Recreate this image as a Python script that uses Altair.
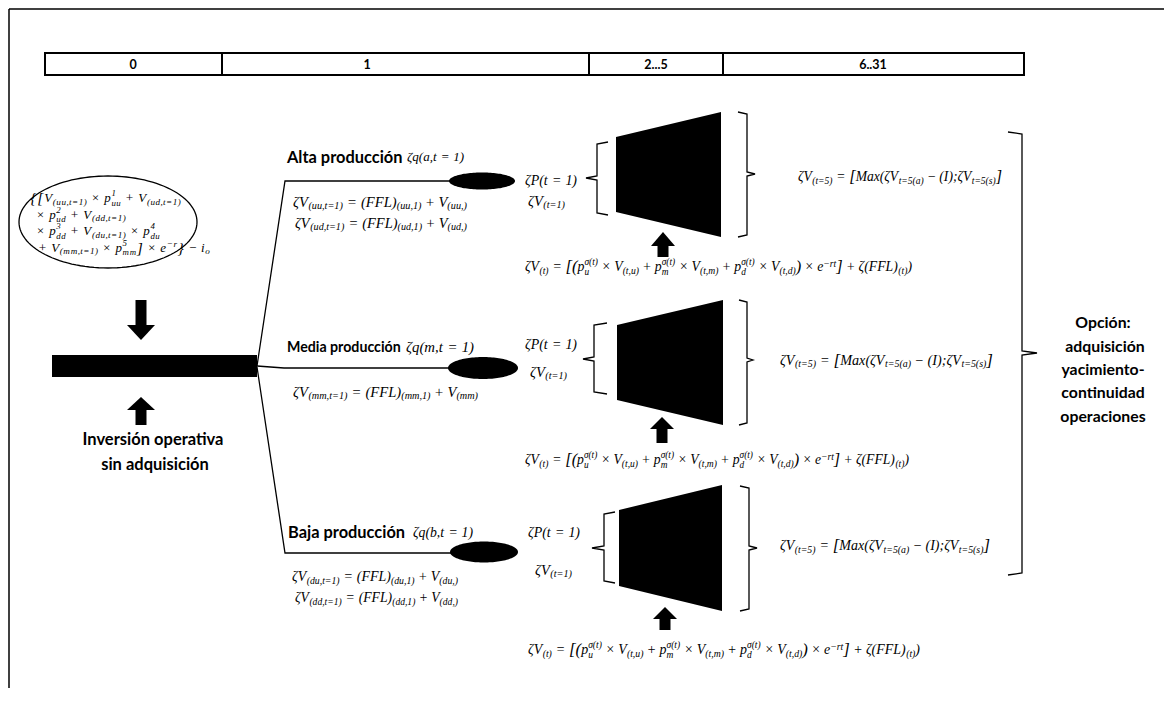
import math
import altair as alt
import pandas as pd

# ---------------- data (diagram content) ----------------
TIMELINE_EDGES = [45, 222, 589, 723, 1024]
TIMELINE_TOP, TIMELINE_BOTTOM = 53, 75
TIMELINE_LABELS = ["0", "1", "2...5", "6..31"]
TIMELINE_LABEL_X = [133, 367, 656, 873]

ROOT_BAR = (52, 257, 355, 377)                 # x1, x2, y1, y2
ROOT_ELLIPSE = (108, 222, 89, 46)              # cx, cy, rx, ry
DOWN_ARROW = (141, 300, 325, 340)              # cx, shaft top, head base, tip
UP_ARROW_LEFT = (141, 397, 410, 425)           # cx, tip, head base, shaft end

BRANCH_PATHS = [
    [(257, 366), (285, 181), (450, 181)],
    [(257, 366), (284, 368), (450, 368)],
    [(257, 367), (285, 553), (452, 553)],
]
NODE_ELLIPSES = [(482, 181, 33, 8.5), (483, 368, 35, 11), (484, 552, 34, 10.5)]
TRAPEZOIDS = [  # x left, x right, left top, left bottom, right top, right bottom
    (616, 721, 137, 212, 112, 237),
    (617, 723, 325, 400, 300, 425),
    (619, 722, 510, 586, 485, 611),
]
LEFT_BRACES = [  # tip x, stem x, hook x, top, middle, bottom
    (586, 597, 608, 142, 178, 215),
    (583, 594, 607, 323, 359, 394),
    (592, 604, 615, 512, 548, 583),
]
RIGHT_BRACKETS = [  # stem x, hook x, tip x, top, middle, bottom
    (747, 738, 755, 112, 174, 237),
    (747, 739, 753, 300, 360, 425),
    (749, 740, 757, 486, 548, 611),
]
BIG_BRACE = (1022, 1008, 1037, 132, 353, 575)
UP_ARROWS = [(663, 232, 246, 257), (662, 417, 429, 443), (665, 607, 619, 630)]  # cx, tip, base, shaft end

REC = ("ζV_<(t)> = !<[(>p_<u>^<σ(t)> × V_<(t,u)>+p_<m>^<σ(t)> × V_<(t,m)>+p_<d>^<σ(t)> × "
       "V_<(t,d)>!<)> × e^<−rt>!<]> + ζ(FFL)_<(t)>)")
OPT = "ζV_<(t=5)> = !<[>Max(ζV_<t=5(a)> − (I);ζV_<t=5(s)>!<]>"

# markup, x left, x right, y centre, fixed size (0 = fit size to the span; else spread towards the span)
FORMULAS = [
    ("!<{[>V_<(uu,t=1)> × p_<uu>^<1>+V_<(ud,t=1)>", 30, 192, 198, 13),
    ("× p_<ud>^<2> + V_<(dd,t=1)>", 32, 142, 214.5, 13),
    ("× p_<dd>^<3> +V_<(du,t=1)>× p_<du>^<4>", 32, 175, 231, 13),
    ("+ V_<(mm,t=1)> × p_<mm>^<5>!<]> × e^<−r>!<}> − i_<o>", 34, 210, 247.5, 13),
    ("ζq(a,t = 1)", 407, 464, 157, 0),
    ("ζq(m,t = 1)", 406, 474, 347, 0),
    ("ζq(b,t = 1)", 413, 473, 533, 0),
    ("ζV_<(uu,t=1)> = (FFL)_<(uu,1)>+V_<(uu,)>", 293, 467, 202, 0),
    ("ζV_<(ud,t=1)> = (FFL)_<(ud,1)>+V_<(ud,)>", 295, 467, 223, 0),
    ("ζV_<(mm,t=1)> = (FFL)_<(mm,1)>+V_<(mm)>", 293, 478, 392, 0),
    ("ζV_<(du,t=1)> = (FFL)_<(du,1)>+V_<(du,)>", 292, 458, 577, 0),
    ("ζV_<(dd,t=1)> = (FFL)_<(dd,1)>+V_<(dd,)>", 295, 458, 598, 0),
    ("ζP(t = 1)", 525, 577, 181, 0), ("ζV_<(t=1)>", 528, 565, 201, 0),
    ("ζP(t = 1)", 525, 577, 345, 0), ("ζV_<(t=1)>", 530, 567, 372, 0),
    ("ζP(t = 1)", 528, 580, 533, 0), ("ζV_<(t=1)>", 535, 572, 570, 0),
    (REC, 525, 912, 267, 0), (REC, 525, 909, 460, 0), (REC, 528, 920, 650, 0),
    (OPT, 798, 1002, 177, 0), (OPT, 780, 993, 360, 0), (OPT, 780, 990, 546, 0),
]
MAX_SPREAD = 1.12

BOLD_LEFT = [("Alta producción", 287, 158, 16.4), ("Media producción", 287, 348, 14.2),
             ("Baja producción", 288, 533, 16.4)]
BOLD_CENTER = [("Inversión operativa", 153, 440, 16.5), ("sin adquisición", 155, 465, 16.5),
               ("Opción:", 1103, 323, 15.8), ("adquisición", 1105, 347, 15.8),
               ("yacimiento-", 1103, 370, 15.8), ("continuidad", 1103, 393, 15.8),
               ("operaciones", 1103, 417, 15.8)]

# ---------------- text metrics (Times italic, em/1000) for sub/superscript layout ----------------
W = {' ': 250, '(': 333, ')': 333, '+': 675, ',': 250, '-': 333, '.': 250, ':': 333, ';': 333,
     '=': 675, '[': 389, ']': 389, '{': 400, '}': 400, '×': 675, '−': 675, 'ζ': 440, 'σ': 540,
     'A': 611, 'F': 611, 'I': 333, 'L': 556, 'M': 833, 'P': 611, 'V': 611,
     'a': 500, 'b': 500, 'd': 500, 'e': 444, 'i': 278, 'm': 722, 'o': 500, 'p': 500, 'q': 500,
     'r': 389, 's': 389, 't': 278, 'u': 500, 'x': 444}
OP_GAP = {'×': 0.24, '+': 0.24, '−': 0.24, '=': 0.28}


def tw(s):
    return sum(W.get(c, 500) for c in s) / 1000.0


def parse(markup):
    toks, buf, i = [], "", 0
    while i < len(markup):
        c = markup[i]
        if c in "_^!" and i + 1 < len(markup) and markup[i + 1] == "<":
            if buf:
                toks.append((buf, "n"))
                buf = ""
            j = markup.index(">", i + 2)
            toks.append((markup[i + 2:j], {"_": "sub", "^": "sup", "!": "big"}[c]))
            i = j + 1
        else:
            buf += c
            i += 1
    if buf:
        toks.append((buf, "n"))
    return toks


def layout(markup, size, spread=1.0):
    """Lay out a formula; spread > 1 widens the advance of every glyph (wider math font)."""
    toks = parse(markup)
    segs = []

    def put(text, x0, dy, s):
        x = x0
        if spread == 1.0:
            if text:
                segs.append((text, x0, dy, s))
            return tw(text) * s
        for c in text:
            segs.append((c, x + (spread - 1) * W.get(c, 500) / 2000.0 * s, dy, s))
            x += W.get(c, 500) / 1000.0 * s * spread
        return x - x0

    st = {"x": 0.0}

    def display(text, dy, s):
        chunk = ""
        for c in text + " ":
            if c == " " or c in OP_GAP:
                st["x"] += put(chunk, st["x"], dy, s)
                chunk = ""
                if c in OP_GAP:
                    st["x"] += OP_GAP[c] * size * spread
                    st["x"] += put(c, st["x"], dy, s)
                    st["x"] += OP_GAP[c] * size * spread
            else:
                chunk += c

    k = 0
    while k < len(toks):
        text, kind = toks[k]
        if kind == "sub" and k + 1 < len(toks) and toks[k + 1][1] == "sup":
            s = 0.68 * size
            w1 = put(text.replace(" ", ""), st["x"], 0.27 * size, s)
            w2 = put(toks[k + 1][0].replace(" ", ""), st["x"], -0.44 * size, s)
            st["x"] += max(w1, w2)
            k += 2
            continue
        if kind == "n":
            display(text, 0.0, size)
        elif kind == "big":
            display(text, 0.07 * size, 1.2 * size)
        elif kind == "sub":
            st["x"] += put(text.replace(" ", ""), st["x"], 0.18 * size, 0.7 * size)
        else:
            st["x"] += put(text.replace(" ", ""), st["x"], -0.34 * size, 0.7 * size)
        k += 1
    return segs, st["x"]


seg_rows = []
for markup, xl, xr, yc, fixed in FORMULAS:
    _, unit = layout(markup, 1.0)
    if fixed:
        size = fixed
        spread = min(MAX_SPREAD, max(1.0, (xr - xl) / (unit * size)))
    else:
        size = (xr - xl) / unit
        spread = 1.0
    segs, _ = layout(markup, size, spread)
    base = yc + 0.32 * size
    for text, dx, dy, s in segs:
        seg_rows.append({"x": xl + dx, "y": base + dy, "t": text, "s": s})
seg_df = pd.DataFrame(seg_rows)

# ---------------- geometry tables ----------------
XS = alt.Scale(domain=[8, 1164], nice=False, zero=False)
YS = alt.Scale(domain=[8, 688], nice=False, zero=False, reverse=True)


def X(f="x"):
    return alt.X(f + ":Q", scale=XS, axis=None)


def Y(f="y"):
    return alt.Y(f + ":Q", scale=YS, axis=None)


line_rows = []


def add_line(pid, pts):
    for k, (px, py) in enumerate(pts):
        line_rows.append({"id": pid, "k": k, "x": px, "y": py})


for i, p in enumerate(BRANCH_PATHS):
    add_line(f"b{i}", p)
for i, (tip, stem, hook, top, mid, bot) in enumerate(LEFT_BRACES):
    add_line(f"lb{i}", [(hook, top), (stem, top + 2), (stem, mid - 2), (tip, mid),
                        (stem, mid + 2), (stem, bot - 2), (hook, bot)])
for i, (stem, hook, tip, top, mid, bot) in enumerate(RIGHT_BRACKETS + [BIG_BRACE]):
    add_line(f"rb{i}", [(hook, top), (stem, top + 2), (stem, mid - 2), (tip, mid),
                        (stem, mid + 2), (stem, bot - 2), (hook, bot)])
cx, cy, rx, ry = ROOT_ELLIPSE
add_line("root", [(cx + rx * math.cos(2 * math.pi * j / 120), cy + ry * math.sin(2 * math.pi * j / 120))
                  for j in range(121)])
lines_df = pd.DataFrame(line_rows)

area_rows = []
for i, (ex, ey, erx, ery) in enumerate(NODE_ELLIPSES):
    for j in range(61):
        th = math.pi * j / 60
        area_rows.append({"id": f"e{i}", "x": ex - erx * math.cos(th),
                          "y": ey - ery * math.sin(th), "y2": ey + ery * math.sin(th)})
for i, (xl, xr, lt, lb, rt, rb) in enumerate(TRAPEZOIDS):
    area_rows += [{"id": f"t{i}", "x": xl, "y": lt, "y2": lb},
                  {"id": f"t{i}", "x": xr, "y": rt, "y2": rb}]
for i, (ax, tip, base, _) in enumerate(UP_ARROWS + [UP_ARROW_LEFT]):
    hw = 14 if ax < 300 else 12
    area_rows += [{"id": f"a{i}", "x": ax - hw, "y": base, "y2": base},
                  {"id": f"a{i}", "x": ax, "y": tip, "y2": base},
                  {"id": f"a{i}", "x": ax + hw, "y": base, "y2": base}]
dx_, sh, hb, tp = DOWN_ARROW
area_rows += [{"id": "ad", "x": dx_ - 14, "y": hb, "y2": hb},
              {"id": "ad", "x": dx_, "y": hb, "y2": tp},
              {"id": "ad", "x": dx_ + 14, "y": hb, "y2": hb}]
area_df = pd.DataFrame(area_rows)

rect_rows = [{"x": ROOT_BAR[0], "x2": ROOT_BAR[1], "y": ROOT_BAR[2], "y2": ROOT_BAR[3]},
             {"x": dx_ - 5.5, "x2": dx_ + 5.5, "y": sh, "y2": hb}]
for ax, tip, base, end in UP_ARROWS + [UP_ARROW_LEFT]:
    rect_rows.append({"x": ax - 5.5, "x2": ax + 5.5, "y": base - 0.5, "y2": end})
rect_df = pd.DataFrame(rect_rows)

cells_df = pd.DataFrame([{"x": a, "x2": b, "y": TIMELINE_TOP, "y2": TIMELINE_BOTTOM}
                         for a, b in zip(TIMELINE_EDGES[:-1], TIMELINE_EDGES[1:])])
tl_df = pd.DataFrame({"t": TIMELINE_LABELS, "x": TIMELINE_LABEL_X, "y": [65] * 4, "s": [12.5] * 4})
frame_df = pd.DataFrame([{"x": 9, "x2": 1164, "y": 9, "y2": 9},
                         {"x": 9, "x2": 9, "y": 9, "y2": 688}])
bl_df = pd.DataFrame(BOLD_LEFT, columns=["t", "x", "y", "s"])
bc_df = pd.DataFrame(BOLD_CENTER, columns=["t", "x", "y", "s"])

# ---------------- layers ----------------
frame = alt.Chart(frame_df).mark_rule(color="black", strokeWidth=1.5).encode(
    x=X(), x2="x2:Q", y=Y(), y2="y2:Q")
cells = alt.Chart(cells_df).mark_rect(fill="white", stroke="black", strokeWidth=2).encode(
    x=X(), x2="x2:Q", y=Y(), y2="y2:Q")
tl_text = alt.Chart(tl_df).mark_text(font="Lato", fontWeight="bold", align="center",
                                     baseline="middle", color="black").encode(
    x=X(), y=Y(), text="t:N", size=alt.Size("s:Q", scale=None))
lines = alt.Chart(lines_df).mark_line(color="black", strokeWidth=1.3).encode(
    x=X(), y=Y(), detail="id:N", order="k:Q")
areas = alt.Chart(area_df).mark_area(color="black", opacity=1).encode(
    x=X(), y=Y(), y2="y2:Q", detail="id:N")
rects = alt.Chart(rect_df).mark_rect(color="black").encode(
    x=X(), x2="x2:Q", y=Y(), y2="y2:Q")
formulas = alt.Chart(seg_df).mark_text(font="Liberation Serif", fontStyle="italic", align="left",
                                       baseline="alphabetic", color="black").encode(
    x=X(), y=Y(), text="t:N", size=alt.Size("s:Q", scale=None))
bold_left = alt.Chart(bl_df).mark_text(font="Lato", fontWeight="bold", align="left",
                                       baseline="middle", color="black").encode(
    x=X(), y=Y(), text="t:N", size=alt.Size("s:Q", scale=None))
bold_center = alt.Chart(bc_df).mark_text(font="Lato", fontWeight="bold", align="center",
                                         baseline="middle", color="black").encode(
    x=X(), y=Y(), text="t:N", size=alt.Size("s:Q", scale=None))

chart = alt.layer(frame, cells, tl_text, lines, areas, rects, formulas, bold_left, bold_center).properties(
    width=1156, height=680, padding=0, autosize=alt.AutoSizeParams(type="none"),
    background="white",
).configure_view(stroke=None)

chart.save("out.html", embed_options={"renderer": "svg", "actions": False})
